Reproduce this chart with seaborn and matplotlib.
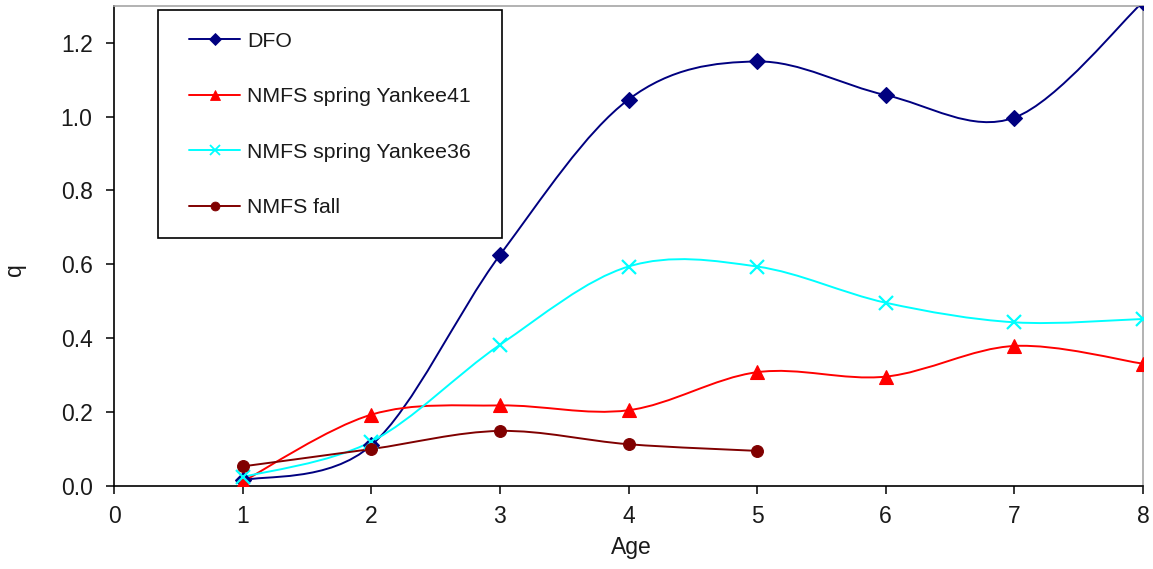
import numpy as np
import pandas as pd
import matplotlib
matplotlib.use("Agg")
import matplotlib.pyplot as plt
from matplotlib.path import Path
from matplotlib.patches import PathPatch, Rectangle
from matplotlib.lines import Line2D
import seaborn as sns

# --- data ---
ages = [1, 2, 3, 4, 5, 6, 7, 8]
ages_fall = [1, 2, 3, 4, 5]

q_dfo = [0.015, 0.11, 0.625, 1.046, 1.149, 1.058, 0.997, 1.31]
q_yankee41 = [0.012, 0.193, 0.218, 0.205, 0.308, 0.296, 0.379, 0.331]
q_yankee36 = [0.024, 0.12, 0.382, 0.594, 0.594, 0.496, 0.443, 0.452]
q_fall = [0.053, 0.100, 0.149, 0.113, 0.095]

series_names = ["DFO", "NMFS spring Yankee41", "NMFS spring Yankee36", "NMFS fall"]
series_x = [ages, ages, ages, ages_fall]
series_y = [q_dfo, q_yankee41, q_yankee36, q_fall]

colors = ["#000080", "#FF0000", "#00FFFF", "#800000"]
markers = ["D", "^", "x", "o"]
marker_sizes = [8, 9.5, 10, 8.5]


def smooth_path(xs, ys):
    """Excel-like smoothed line: Catmull-Rom segments as cubic Bezier curves."""
    pts = np.column_stack([xs, ys]).astype(float)
    n = len(pts)
    verts = [pts[0]]
    codes = [Path.MOVETO]
    for i in range(n - 1):
        p0 = pts[i - 1] if i > 0 else pts[i]
        p1 = pts[i]
        p2 = pts[i + 1]
        p3 = pts[i + 2] if i + 2 < n else pts[i + 1]
        c1 = p1 + (p2 - p0) / 6.0
        c2 = p2 - (p3 - p1) / 6.0
        verts += [c1, c2, p2]
        codes += [Path.CURVE4] * 3
    return Path(verts, codes)


def main():
    sns.set_theme(style="ticks")
    plt.rcParams["font.family"] = ["Liberation Sans", "DejaVu Sans"]

    fig = plt.figure(figsize=(11.53, 5.69), dpi=100)
    ax = fig.add_axes([0.0989, 0.1459, 0.8924, 0.8441])

    handles = []
    for name, xs, ys, col, mk, ms in zip(series_names, series_x, series_y,
                                          colors, markers, marker_sizes):
        # smoothed connecting line
        patch = PathPatch(smooth_path(xs, ys), facecolor="none", edgecolor=col,
                          lw=1.4, zorder=2)
        ax.add_patch(patch)
        # markers
        df = pd.DataFrame({"Age": xs, "q": ys})
        sns.lineplot(data=df, x="Age", y="q", ax=ax, color=col, marker=mk,
                     markersize=ms, linestyle="none", mec=col, mfc=col,
                     mew=1.6 if mk == "x" else 0.8, zorder=3)
        handles.append(Line2D([], [], color=col, lw=1.4, marker=mk,
                              markersize=ms * 0.75, mec=col, mfc=col,
                              mew=1.3 if mk == "x" else 0.6))

    ax.set_xlim(0, 8)
    ax.set_ylim(0, 1.3)
    ax.set_xticks(range(0, 9))
    ax.set_yticks(np.arange(0, 1.21, 0.2))
    ax.set_yticklabels([f"{v:.1f}" for v in np.arange(0, 1.21, 0.2)])
    ax.tick_params(axis="both", direction="out", length=5.5, width=1.1,
                   color="black", labelsize=16.5, labelcolor="#1a1a1a")
    ax.tick_params(axis="x", pad=8)
    ax.tick_params(axis="y", pad=10)

    for side in ["left", "bottom"]:
        ax.spines[side].set_color("black")
        ax.spines[side].set_linewidth(1.2)
    for side in ["top", "right"]:
        ax.spines[side].set_visible(True)
        ax.spines[side].set_color("#a6a6a6")
        ax.spines[side].set_linewidth(1.2)

    ax.set_xlabel("Age", fontsize=16.5, color="#1a1a1a")
    ax.set_ylabel("q", fontsize=16.5, color="#1a1a1a")
    ax.xaxis.set_label_coords(0.503, -0.105)
    ax.yaxis.set_label_coords(-0.086, 0.45)

    # legend box (Excel style: square black frame, roomy entries)
    ax.add_patch(Rectangle((0.0428, 0.516), 0.3343, 0.475, transform=ax.transAxes,
                           facecolor="white", edgecolor="black", lw=1.2,
                           zorder=4, clip_on=False))
    leg = ax.legend(handles, series_names, loc="upper left",
                    bbox_to_anchor=(0.0729, 0.946), frameon=False,
                    fontsize=15.3, handlelength=2.4, handletextpad=0.33,
                    labelspacing=1.72, borderpad=0, borderaxespad=0)
    leg.set_zorder(5)
    for t in leg.get_texts():
        t.set_color("#1a1a1a")

    fig.savefig("out.png", dpi=100)
    plt.close(fig)


if __name__ == "__main__":
    main()
